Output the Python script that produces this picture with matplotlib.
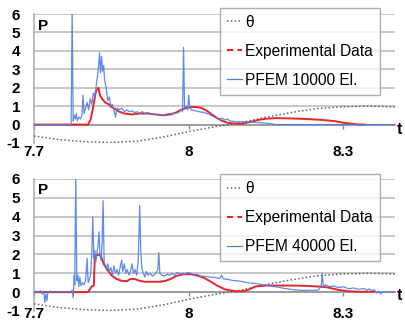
import matplotlib
matplotlib.use("Agg")
import matplotlib.pyplot as plt
from matplotlib.lines import Line2D

plt.rcParams['font.family'] = ['Liberation Sans', 'DejaVu Sans']
plt.rcParams['axes.unicode_minus'] = False

# theta (same in both panels)
theta_t = [7.70, 7.75, 7.80, 7.85, 7.90, 7.95, 8.00, 8.05, 8.10, 8.15, 8.20, 8.25, 8.30, 8.35, 8.40]
theta_p = [-0.62, -0.82, -0.93, -0.97, -0.9, -0.68, -0.38, -0.12, 0.1, 0.4, 0.66, 0.87, 0.97, 1.0, 0.96]

# experimental data, top panel
exp1_t = [7.70, 7.805, 7.810, 7.815, 7.820, 7.825, 7.828, 7.832, 7.838, 7.845, 7.850, 7.857, 7.865,
          7.875, 7.890, 7.905, 7.920, 7.935, 7.950, 7.965, 7.975, 7.985, 7.995, 8.005, 8.015, 8.025,
          8.035, 8.045, 8.055, 8.065, 8.075, 8.090, 8.105, 8.120, 8.135, 8.150, 8.170, 8.200, 8.230,
          8.260, 8.285, 8.300, 8.315, 8.330, 8.340]
exp1_p = [0, 0, 0.3, 1.0, 1.8, 2.0, 1.6, 1.4, 1.2, 1.1, 0.95, 0.85, 0.7,
          0.6, 0.55, 0.6, 0.6, 0.55, 0.5, 0.55, 0.65, 0.8, 0.9, 0.95, 0.95, 0.9,
          0.75, 0.55, 0.35, 0.2, 0.1, 0.05, 0.05, 0.15, 0.25, 0.32, 0.35, 0.33, 0.3,
          0.25, 0.18, 0.1, 0.05, 0.0, 0.0]

# PFEM 10000 elements
pf1_t = [7.700, 7.772, 7.774, 7.776, 7.778, 7.780, 7.782, 7.784, 7.787, 7.790, 7.793, 7.795, 7.797,
         7.800, 7.803, 7.806, 7.809, 7.812, 7.815, 7.818, 7.821, 7.823, 7.825, 7.827, 7.829, 7.831,
         7.833, 7.835, 7.837, 7.840, 7.843, 7.846, 7.849, 7.852, 7.855, 7.858, 7.861, 7.865, 7.870,
         7.875, 7.880, 7.885, 7.890, 7.895, 7.900, 7.905, 7.910, 7.915, 7.920, 7.930, 7.940, 7.950,
         7.960, 7.970, 7.980, 7.986, 7.988, 7.990, 7.992, 7.995, 7.998, 8.000, 8.002, 8.006, 8.012,
         8.020, 8.030, 8.040, 8.050, 8.060, 8.065, 8.070, 8.075, 8.080, 8.090, 8.100, 8.130, 8.150,
         8.170, 8.400]
pf1_p = [0, 0, 6.3, 0.2, 0.5, 0.3, 0.6, 0.2, 0.4, 0.3, 0.5, 1.6, 0.6,
         0.9, 1.2, 0.8, 1.4, 1.1, 1.7, 1.5, 2.2, 2.6, 3.1, 3.9, 2.8, 3.7,
         2.9, 3.2, 2.4, 2.0, 1.3, 1.5, 1.0, 1.1, 0.8, 0.4, 0.9, 0.8, 0.9,
         0.7, 0.8, 0.7, 0.75, 0.65, 0.7, 0.6, 0.7, 0.6, 0.65, 0.55, 0.55, 0.5,
         0.6, 0.6, 0.65, 0.8, 0.7, 4.2, 0.9, 1.0, 0.8, 1.6, 0.9, 0.8, 0.75,
         0.7, 0.65, 0.55, 0.4, 0.3, 0.35, 0.25, 0.3, 0.2, 0.15, 0.15, 0.12, 0.08,
         0.0, 0.0]

# experimental data, bottom panel
exp2_t = [7.70, 7.805, 7.807, 7.812, 7.816, 7.818, 7.825, 7.830, 7.835, 7.842, 7.850, 7.860, 7.870,
          7.880, 7.887, 7.895, 7.905, 7.915, 7.930, 7.945, 7.955, 7.965, 7.975, 7.990, 8.005, 8.020,
          8.030, 8.040, 8.055, 8.070, 8.090, 8.105, 8.115, 8.130, 8.150, 8.170, 8.200, 8.230, 8.250,
          8.270, 8.290, 8.310, 8.330, 8.360]
exp2_p = [0, 0, 0.1, 0.3, 0.35, 1.9, 2.0, 1.9, 1.5, 1.2, 0.9, 0.7, 0.6,
          0.58, 0.7, 0.7, 0.6, 0.55, 0.55, 0.55, 0.6, 0.7, 0.85, 0.95, 0.95, 0.85,
          0.75, 0.6, 0.35, 0.15, 0.05, 0.05, 0.12, 0.3, 0.35, 0.35, 0.35, 0.33, 0.3,
          0.25, 0.12, 0.05, 0.02, 0.02]

# PFEM 40000 elements
pf2_t = [7.700, 7.704, 7.708, 7.712, 7.716, 7.719, 7.721, 7.723, 7.725, 7.727, 7.732, 7.740, 7.748,
         7.756, 7.764, 7.771, 7.774, 7.776, 7.778, 7.779, 7.781, 7.783, 7.785, 7.787, 7.789, 7.791,
         7.794, 7.797, 7.800, 7.803, 7.805, 7.808, 7.810, 7.812, 7.814, 7.816, 7.818, 7.820, 7.822,
         7.824, 7.826, 7.828, 7.830, 7.832, 7.834, 7.836, 7.838, 7.840, 7.843, 7.846, 7.849, 7.852,
         7.855, 7.858, 7.861, 7.864, 7.867, 7.870, 7.872, 7.875, 7.878, 7.881, 7.884, 7.887, 7.890,
         7.893, 7.896, 7.899, 7.902, 7.905, 7.907, 7.909, 7.912, 7.915, 7.918, 7.921, 7.925, 7.930,
         7.935, 7.940, 7.942, 7.944, 7.948, 7.953, 7.958, 7.963, 7.968, 7.973, 7.978, 7.983, 7.988,
         7.993, 7.998, 8.004, 8.010, 8.016, 8.022, 8.030, 8.040, 8.050, 8.060, 8.064, 8.067, 8.075,
         8.085, 8.095, 8.105, 8.115, 8.125, 8.135, 8.145, 8.155, 8.165, 8.175, 8.185, 8.195, 8.205,
         8.215, 8.225, 8.235, 8.245, 8.252, 8.257, 8.259, 8.261, 8.265, 8.272, 8.280, 8.290, 8.300,
         8.310, 8.320, 8.330, 8.340, 8.345, 8.350, 8.355, 8.360, 8.365, 8.368, 8.372, 8.376, 8.385,
         8.400]
pf2_p = [0.0, 0.05, -0.05, 0.08, -0.1, 0.05, -0.55, -0.1, -0.45, 0.02, 0.05, -0.02, 0.04,
         0.0, 0.02, 0.0, 0.1, -0.3, 0.9, 0.4, 6.1, 0.6, 0.9, 0.3, 0.8, 0.35,
         0.5, 0.4, 0.6, 1.8, 0.5, 0.7, 1.0, 2.0, 4.0, 1.8, 2.2, 1.6, 2.1,
         2.4, 3.2, 2.0, 1.7, 2.6, 4.85, 1.6, 1.4, 1.2, 1.5, 1.1, 1.3, 0.9,
         1.4, 1.0, 1.2, 0.9, 1.3, 1.7, 1.1, 1.5, 1.0, 1.2, 0.9, 1.1, 1.5,
         1.0, 1.2, 0.9, 1.6, 4.6, 2.2, 1.3, 1.0, 0.8, 1.1, 0.9, 1.0, 0.85,
         0.95, 1.2, 2.1, 1.0, 0.9, 0.85, 0.95, 0.9, 1.0, 0.9, 1.05, 0.95, 1.0,
         0.95, 1.05, 1.0, 0.9, 0.95, 0.85, 0.85, 0.8, 0.78, 0.72, 0.9, 0.7, 0.68,
         0.62, 0.6, 0.55, 0.5, 0.47, 0.43, 0.38, 0.35, 0.3, 0.25, 0.2, 0.16, 0.12,
         0.1, 0.09, 0.1, 0.1, 0.12, 0.35, 1.0, 0.3, 0.4, 0.3, 0.32, 0.25, 0.28,
         0.18, 0.22, 0.15, 0.2, 0.1, 0.17, 0.08, 0.12, -0.05, 0.05, -0.1, 0.0, 0.02,
         0.0]

xticks = [7.7, 8.0, 8.3]
xticklabels = ['7.7', '8', '8.3']
yticks = [-1, 0, 1, 2, 3, 4, 5, 6]

BLUE = '#4f7fe6'
RED = '#e8262a'
THETA = '#606078'
GRID = '#c4c4c4'

fig = plt.figure(figsize=(4.05, 3.26), dpi=100)
ax1 = fig.add_axes([34 / 405, 183 / 326, 361 / 405, 129 / 326])
ax2 = fig.add_axes([34 / 405, 15 / 326, 361 / 405, 132 / 326])


def draw(ax, exp_t, exp_p, pf_t, pf_p, label, pad, leg_top, t_y, p_y):
    ax.plot(theta_t, theta_p, color=THETA, lw=1.1, ls=(0, (1, 1.5)), zorder=3)
    ax.plot(exp_t, exp_p, color=RED, lw=1.4, zorder=4)
    ax.plot(pf_t, pf_p, color=BLUE, lw=0.9, alpha=0.9, zorder=5)
    ax.set_xlim(7.7, 8.4)
    ax.set_ylim(-1, 6)
    for v in range(1, 7):
        ax.axhline(v, color=GRID, lw=1.3, zorder=1)
    for s in ['top', 'right']:
        ax.spines[s].set_visible(False)
    ax.spines['left'].set_color('#b0b0b0')
    ax.spines['left'].set_linewidth(1.2)
    ax.spines['bottom'].set_position(('data', 0))
    ax.spines['bottom'].set_color('#8a8a8a')
    ax.spines['bottom'].set_linewidth(1.2)
    ax.spines['bottom'].set_zorder(2)
    ax.set_xticks(xticks)
    ax.set_xticklabels(xticklabels)
    ax.set_yticks(yticks)
    ax.tick_params(axis='x', length=3, width=1, color='#8a8a8a', pad=pad,
                   labelsize=11)
    ax.tick_params(axis='y', length=0, pad=10, labelsize=11)
    for lab in ax.get_xticklabels() + ax.get_yticklabels():
        lab.set_fontweight('bold')
    ax.text(0.012, p_y, 'P', transform=ax.transAxes, ha='left', va='center',
            fontsize=11, fontweight='bold')
    ax.text(1.005, t_y, 't', transform=ax.transAxes, ha='left', va='center',
            fontsize=11.5, fontweight='bold', clip_on=False)
    handles = [
        Line2D([], [], color=THETA, lw=1.1, ls=(0, (1, 1.5))),
        Line2D([], [], color=RED, lw=1.5, ls=(0, (3, 2))),
        Line2D([], [], color=BLUE, lw=0.9),
    ]
    leg = ax.legend(handles, ['θ', 'Experimental Data', label],
                    loc='upper right', bbox_to_anchor=(0.958, leg_top),
                    fontsize=11.2, frameon=True, fancybox=False,
                    borderpad=0.45, labelspacing=0.9, handlelength=0.95,
                    handletextpad=0.2, borderaxespad=0)
    leg.get_frame().set_edgecolor('#9a9a9a')
    leg.get_frame().set_linewidth(1.0)
    leg.set_zorder(10)


draw(ax1, exp1_t, exp1_p, pf1_t, pf1_p, 'PFEM 10000 El.', 12, 1.047, 0.108, 0.905)
draw(ax2, exp2_t, exp2_p, pf2_t, pf2_p, 'PFEM 40000 El.', 8, 1.038, 0.114, 0.917)

fig.savefig('out.png', dpi=100)
